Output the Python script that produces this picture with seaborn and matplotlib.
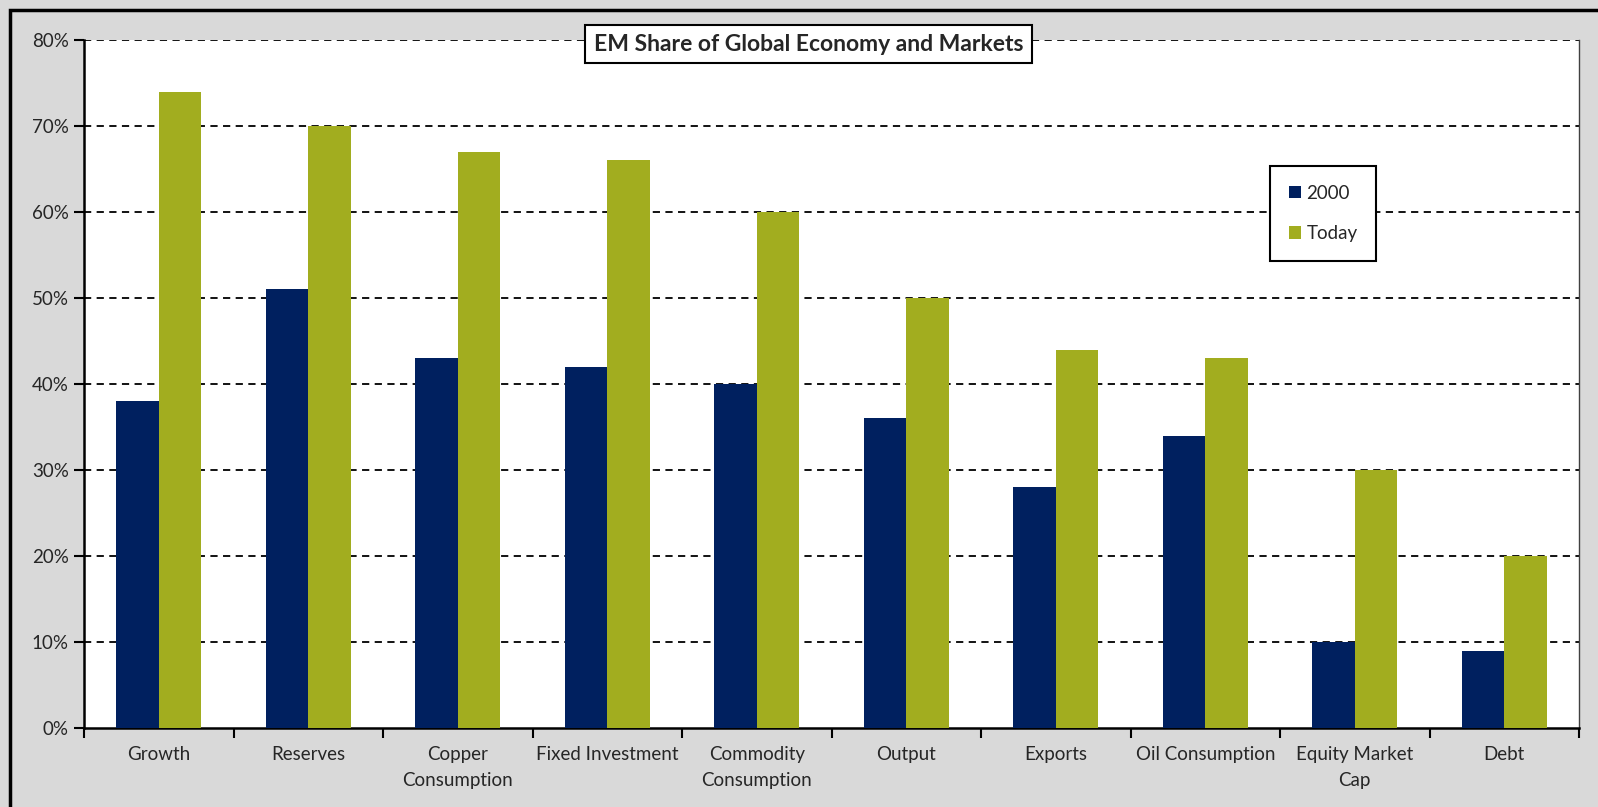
import matplotlib
matplotlib.use("Agg")
import matplotlib.pyplot as plt
from matplotlib.patches import Rectangle, Patch
from matplotlib.ticker import FixedLocator, PercentFormatter
import seaborn as sns
import pandas as pd

categories = ["Growth", "Reserves", "Copper\nConsumption", "Fixed Investment",
              "Commodity\nConsumption", "Output", "Exports", "Oil Consumption",
              "Equity Market\nCap", "Debt"]
share_2000 = [38, 51, 43, 42, 40, 36, 28, 34, 10, 9]
share_today = [74, 70, 67, 66, 60, 50, 44, 43, 30, 20]
series = ["2000", "Today"]
colors = {"2000": "#00205F", "Today": "#A2AD1F"}
y_ticks = [0, 10, 20, 30, 40, 50, 60, 70, 80]
title = "EM Share of Global Economy and Markets"

df = pd.DataFrame({
    "category": categories * 2,
    "series": [series[0]] * len(categories) + [series[1]] * len(categories),
    "value": share_2000 + share_today,
})

sns.set_theme(style="white")
plt.rcParams["font.family"] = ["Lato", "DejaVu Sans"]

W, H = 1598, 807
fig = plt.figure(figsize=(W / 100, H / 100), dpi=100, facecolor="#D9D9D9")
ax = fig.add_axes([84 / W, 1 - 728 / H, (1579 - 84) / W, (728 - 40) / H])
ax.set_facecolor("white")

# outer chart frame
fig.patches.append(Rectangle((10 / W, -0.05), 1.2, 1 - 10 / H + 0.05,
                             transform=fig.transFigure, fill=False,
                             edgecolor="black", linewidth=2.5, zorder=0))

sns.barplot(data=df, x="category", y="value", hue="series", order=categories,
            hue_order=series, palette=colors, width=0.57, gap=0,
            saturation=1, edgecolor="none", ax=ax, legend=False, zorder=3)

ax.set_ylim(0, 80)
ax.set_xlim(-0.5, len(categories) - 0.5)
ax.yaxis.set_major_locator(FixedLocator(y_ticks))
ax.yaxis.set_major_formatter(PercentFormatter(decimals=0))
ax.set_xlabel("")
ax.set_ylabel("")

# dashed gridlines
for v in y_ticks[1:]:
    ax.axhline(v, color="black", linestyle=(0, (4, 3)), linewidth=1.3, zorder=1)

# category-boundary tick marks on the x axis
ax.set_xticks(range(len(categories)))
ax.set_xticklabels(categories, fontsize=13.5, linespacing=1.65)
ax.tick_params(axis="x", length=0, pad=13)
ax.set_xticks([i - 0.5 for i in range(len(categories) + 1)], minor=True)
ax.tick_params(axis="x", which="minor", length=7, width=1.5, direction="out",
               color="black", bottom=True)
ax.tick_params(axis="y", length=7, width=1.5, direction="out", color="black",
               left=True, labelsize=13.5, pad=4)

for side in ["left", "bottom"]:
    ax.spines[side].set_color("black")
    ax.spines[side].set_linewidth(1.8)
ax.spines["top"].set_visible(False)
ax.spines["right"].set_color("#404040")
ax.spines["right"].set_linewidth(1.0)

ax.text(0.4846, 0.994, title, transform=ax.transAxes, ha="center", va="center",
        fontsize=16.5, fontweight="bold", zorder=6,
        bbox=dict(boxstyle="square,pad=0.38", facecolor="white",
                  edgecolor="black", linewidth=1.5))

handles = [Patch(facecolor=colors[s], edgecolor="none", label=s) for s in series]
leg = ax.legend(handles=handles, loc="upper left",
                bbox_to_anchor=((1270 - 84) / (1579 - 84), 1 - (166 - 40) / (728 - 40)),
                frameon=True, fancybox=False, fontsize=13.5, handlelength=0.65,
                handleheight=0.65, handletextpad=0.3, labelspacing=1.25,
                borderpad=1.0, borderaxespad=0, edgecolor="black",
                facecolor="white", framealpha=1)
leg.get_frame().set_linewidth(1.5)
leg.set_zorder(6)

fig.savefig("out.png", dpi=100, facecolor=fig.get_facecolor())
